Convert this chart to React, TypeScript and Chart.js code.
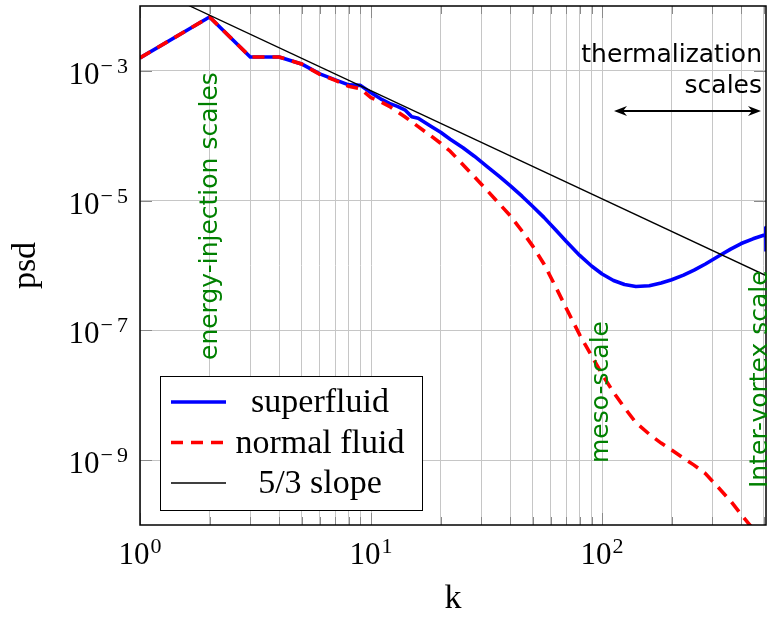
import React, { useEffect, useRef } from "react";
import { Chart, registerables } from "chart.js";

Chart.register(...registerables);

// ---- data ----
const kValues = [1, 2, 3, 4, 5, 6, 7, 8, 9, 10, 11, 12, 13, 14, 15, 16, 18, 20, 22, 25, 28, 32, 36, 40, 45, 50, 56, 63, 70, 80, 90, 100, 112, 125, 140, 160, 180, 200, 225, 250, 280, 320, 360, 400, 450, 500, 510, 511, 512];
const superfluid = [1.585e-3, 6.78e-3, 1.64e-3, 1.64e-3, 1.28e-3, 9.0e-4, 7.27e-4, 6.09e-4, 5.98e-4, 4.59e-4, 3.71e-4, 3.16e-4, 2.84e-4, 2.51e-4, 1.96e-4, 1.86e-4, 1.43e-4, 1.13e-4, 8.83e-5, 6.54e-5, 4.84e-5, 3.28e-5, 2.34e-5, 1.7e-5, 1.17e-5, 8.2e-6, 5.52e-6, 3.52e-6, 2.34e-6, 1.43e-6, 9.83e-7, 7.4e-7, 5.88e-7, 5.1e-7, 4.75e-7, 4.88e-7, 5.38e-7, 6.03e-7, 7.1e-7, 8.47e-7, 1.055e-6, 1.4e-6, 1.79e-6, 2.18e-6, 2.58e-6, 2.92e-6, 2.98e-6, 3.85e-6, 1.64e-6];
const normalFluid = [1.585e-3, 6.78e-3, 1.64e-3, 1.64e-3, 1.28e-3, 8.84e-4, 7.15e-4, 5.78e-4, 5.28e-4, 3.85e-4, 3.33e-4, 2.84e-4, 2.34e-4, 1.96e-4, 1.64e-4, 1.38e-4, 1.02e-4, 7.67e-5, 5.78e-5, 3.58e-5, 2.34e-5, 1.4e-5, 8.83e-6, 5.88e-6, 3.4e-6, 2.01e-6, 1.055e-6, 4.67e-7, 2.18e-7, 8.53e-8, 4.05e-8, 2.11e-8, 1.11e-8, 6.42e-9, 3.78e-9, 2.51e-9, 1.83e-9, 1.43e-9, 1.07e-9, 8.38e-10, 6.2e-10, 3.71e-10, 2.34e-10, 1.45e-10, 8.7e-11, 5.5e-11, 5.0e-11, 4.95e-11, 4.9e-11];
const slopeK = [1, 512];
const slopeValues = [0.0229, 7.0e-7];

const seriesLabels = ["superfluid", "normal fluid", "5/3 slope"];
const xGridValues = [1, 2, 3, 4, 5, 6, 7, 8, 9, 10, 20, 30, 40, 50, 60, 70, 80, 90, 100, 200, 300, 400, 500];
const xLabelValues = [1, 10, 100];
const yGridValues = [1e-9, 1e-7, 1e-5, 1e-3];
const xTitle = "k";
const yTitle = "psd";
const annotations = ["energy-injection scales", "meso-scale", "Inter-vortex scale"];
const thermalLines = ["thermalization", "scales"];

const SERIF = '"Liberation Serif", "Times New Roman", serif';
const SANS = '"DejaVu Sans", "Noto Sans", sans-serif';

function drawPower(ctx: CanvasRenderingContext2D, exp: number, x: number, baseline: number, align: "center" | "right") {
  const baseFont = `31px ${SERIF}`;
  const expFont = `22px ${SERIF}`;
  ctx.font = baseFont;
  const wb = ctx.measureText("10").width;
  ctx.font = expFont;
  const expStr = String(Math.abs(exp));
  const minusW = exp < 0 ? ctx.measureText("\u2212").width + 4 : 0;
  const we = ctx.measureText(expStr).width;
  const total = wb + 1 + minusW + we;
  const sx = align === "center" ? x - total / 2 : x - total;
  ctx.textAlign = "left";
  ctx.textBaseline = "alphabetic";
  ctx.fillStyle = "#000";
  ctx.font = baseFont;
  ctx.fillText("10", sx, baseline);
  ctx.font = expFont;
  let ex = sx + wb + 1;
  if (exp < 0) {
    ctx.fillText("\u2212", ex, baseline - 11);
    ex += minusW;
  }
  ctx.fillText(expStr, ex, baseline - 11);
}

function vText(ctx: CanvasRenderingContext2D, text: string, baseX: number, startY: number, color: string, font: string) {
  ctx.save();
  ctx.translate(baseX, startY);
  ctx.rotate(-Math.PI / 2);
  ctx.font = font;
  ctx.fillStyle = color;
  ctx.textAlign = "left";
  ctx.textBaseline = "alphabetic";
  ctx.fillText(text, 0, 0);
  ctx.restore();
}

function arrowHead(ctx: CanvasRenderingContext2D, x: number, y: number, dir: number) {
  ctx.beginPath();
  ctx.moveTo(x, y);
  ctx.lineTo(x - dir * 13, y - 5);
  ctx.lineTo(x - dir * 9, y);
  ctx.lineTo(x - dir * 13, y + 5);
  ctx.closePath();
  ctx.fill();
}

const overlayPlugin = {
  id: "overlay",
  afterDatasetsDraw(chart: any) {
    const ctx: CanvasRenderingContext2D = chart.ctx;
    const a = chart.chartArea;
    const xs = chart.scales.x;
    const ys = chart.scales.y;
    ctx.save();

    // inner tick marks
    ctx.strokeStyle = "#8a8a8a";
    ctx.lineWidth = 1;
    for (const v of xGridValues) {
      const px = Math.round(xs.getPixelForValue(v)) + 0.5;
      const major = Math.abs(Math.log10(v) - Math.round(Math.log10(v))) < 1e-9;
      const len = major ? 12 : 8;
      ctx.beginPath();
      ctx.moveTo(px, a.bottom);
      ctx.lineTo(px, a.bottom - len);
      ctx.moveTo(px, a.top);
      ctx.lineTo(px, a.top + len);
      ctx.stroke();
    }
    for (const v of yGridValues) {
      const py = Math.round(ys.getPixelForValue(v)) + 0.5;
      ctx.beginPath();
      ctx.moveTo(a.left, py);
      ctx.lineTo(a.left + 12, py);
      ctx.moveTo(a.right, py);
      ctx.lineTo(a.right - 12, py);
      ctx.stroke();
    }

    // frame
    ctx.strokeStyle = "#000";
    ctx.lineWidth = 1.5;
    ctx.strokeRect(a.left, a.top, a.right - a.left, a.bottom - a.top);

    // tick labels
    for (const v of xLabelValues) {
      drawPower(ctx, Math.round(Math.log10(v)), xs.getPixelForValue(v), a.bottom + 39, "center");
    }
    for (const v of yGridValues) {
      drawPower(ctx, Math.round(Math.log10(v)), a.left - 12, ys.getPixelForValue(v) + 13, "right");
    }

    // axis titles
    ctx.fillStyle = "#000";
    ctx.font = `34px ${SERIF}`;
    ctx.textAlign = "center";
    ctx.textBaseline = "alphabetic";
    ctx.fillText(xTitle, (a.left + a.right) / 2, a.bottom + 83);
    ctx.save();
    ctx.translate(35, (a.top + a.bottom) / 2);
    ctx.rotate(-Math.PI / 2);
    ctx.fillText(yTitle, 0, 0);
    ctx.restore();

    // green annotations
    const green = "#008000";
    const gfont = `25px ${SANS}`;
    vText(ctx, annotations[0], xs.getPixelForValue(2) + 7, 360, green, gfont);
    vText(ctx, annotations[1], xs.getPixelForValue(100) + 6, 463, green, gfont);
    vText(ctx, annotations[2], a.right + 1, 488, green, gfont);

    // thermalization label + arrow
    ctx.fillStyle = "#000";
    ctx.font = `25px ${SANS}`;
    ctx.textAlign = "right";
    ctx.fillText(thermalLines[0], a.right - 4, 62);
    ctx.fillText(thermalLines[1], a.right - 4, 93);
    const ay = 111;
    const x1 = 614;
    const x2 = a.right - 5;
    ctx.strokeStyle = "#000";
    ctx.lineWidth = 2;
    ctx.beginPath();
    ctx.moveTo(x1 + 8, ay);
    ctx.lineTo(x2 - 8, ay);
    ctx.stroke();
    arrowHead(ctx, x1, ay, -1);
    arrowHead(ctx, x2, ay, 1);

    // legend
    const lx = a.left + 20;
    const ly = a.bottom - 149;
    const lw = 262;
    const lh = 134;
    ctx.fillStyle = "#fff";
    ctx.fillRect(lx, ly, lw, lh);
    ctx.strokeStyle = "#000";
    ctx.lineWidth = 1;
    ctx.strokeRect(lx + 0.5, ly + 0.5, lw, lh);
    const dsets = chart.data.datasets;
    for (let i = 0; i < dsets.length; i++) {
      const d = dsets[i];
      const cy = ly + 26 + i * 40.5;
      ctx.save();
      ctx.strokeStyle = d.borderColor;
      ctx.lineWidth = d.borderWidth;
      ctx.setLineDash(d.borderDash || []);
      ctx.beginPath();
      ctx.moveTo(lx + 11, cy);
      ctx.lineTo(lx + 66, cy);
      ctx.stroke();
      ctx.restore();
      ctx.fillStyle = "#000";
      ctx.font = `34px ${SERIF}`;
      ctx.textAlign = "center";
      ctx.fillText(d.label, lx + 160, cy + 10);
    }

    ctx.restore();
  },
};

export default function App() {
  const ref = useRef<HTMLCanvasElement | null>(null);
  useEffect(() => {
    if (!ref.current) return;
    const chart = new Chart(ref.current, {
      type: "line",
      data: {
        datasets: [
          {
            label: seriesLabels[0],
            data: kValues.map((k, i) => ({ x: k, y: superfluid[i] })),
            borderColor: "#0000ff",
            borderWidth: 3.6,
            pointRadius: 0,
            tension: 0,
            order: 3,
            borderJoinStyle: "round",
          },
          {
            label: seriesLabels[1],
            data: kValues.map((k, i) => ({ x: k, y: normalFluid[i] })),
            borderColor: "#ff0000",
            borderWidth: 3.6,
            borderDash: [12, 8],
            pointRadius: 0,
            tension: 0,
            order: 2,
          },
          {
            label: seriesLabels[2],
            data: slopeK.map((k, i) => ({ x: k, y: slopeValues[i] })),
            borderColor: "#000000",
            borderWidth: 1.3,
            pointRadius: 0,
            tension: 0,
            order: 1,
          },
        ],
      } as any,
      options: {
        animation: false,
        responsive: false,
        devicePixelRatio: 1,
        layout: { padding: { top: 6, right: 3, left: 0, bottom: 0 } },
        plugins: { legend: { display: false }, tooltip: { enabled: false } },
        scales: {
          x: {
            type: "logarithmic",
            min: 1,
            max: 512,
            border: { display: false },
            grid: { color: "#c6c6c6", lineWidth: 1, drawTicks: false },
            ticks: { display: false },
            afterBuildTicks: (s: any) => {
              s.ticks = xGridValues.map((v) => ({ value: v }));
            },
            afterFit: (s: any) => {
              s.height = 92;
            },
          },
          y: {
            type: "logarithmic",
            min: 1e-10,
            max: 1e-2,
            border: { display: false },
            grid: { color: "#c6c6c6", lineWidth: 1, drawTicks: false },
            ticks: { display: false },
            afterBuildTicks: (s: any) => {
              s.ticks = yGridValues.map((v) => ({ value: v }));
            },
            afterFit: (s: any) => {
              s.width = 140;
            },
          },
        },
      } as any,
      plugins: [overlayPlugin],
    });
    return () => chart.destroy();
  }, []);
  return (
    <div style={{ position: "fixed", left: 0, top: 0, width: 769, height: 617, background: "#fff" }}>
      <canvas ref={ref} width={769} height={617} style={{ display: "block" }} />
    </div>
  );
}
